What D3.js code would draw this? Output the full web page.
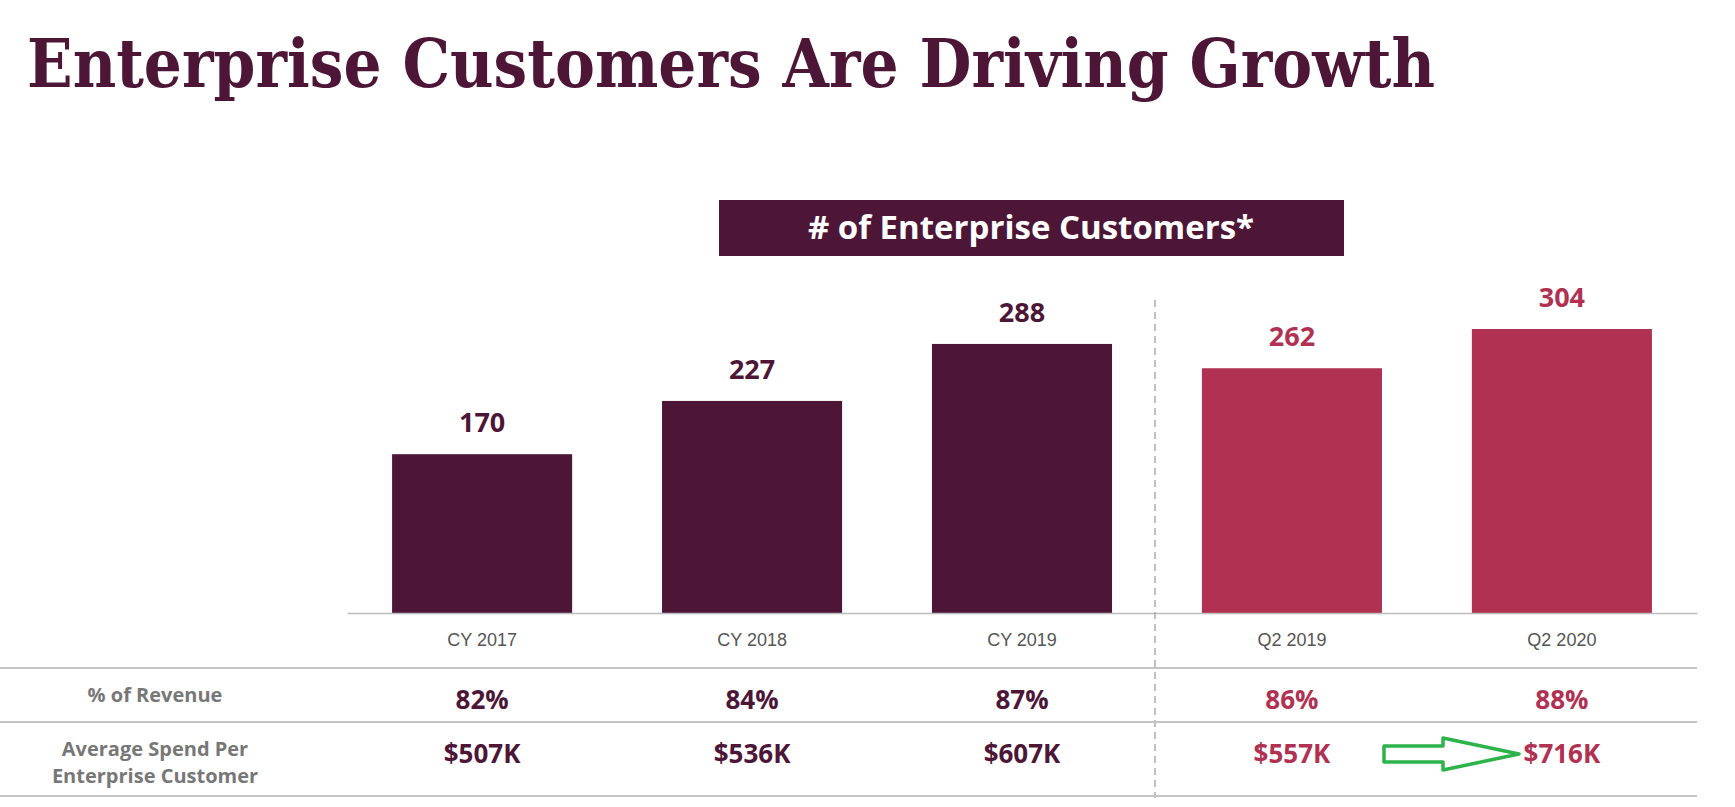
<!DOCTYPE html>
<html><head><meta charset="utf-8">
<script src="https://cdn.jsdelivr.net/npm/d3@7"></script>
<style>body{margin:0;background:#fff}</style>
</head><body><div id="chart"></div>
<script>
const categories = ["CY 2017", "CY 2018", "CY 2019", "Q2 2019", "Q2 2020"];
const customers = [170, 227, 288, 262, 304];
const revenueShare = ["82%", "84%", "87%", "86%", "88%"];
const avgSpend = ["$507K", "$536K", "$607K", "$557K", "$716K"];
const isQuarter = [false, false, false, true, true];

const dark = "#4d1637", red = "#b03152";
const W = 1735, H = 807, baseY = 613;

const svg = d3.select("#chart").append("svg").attr("width", W).attr("height", H);

svg.append("text").attr("x", 27).attr("y", 87)
    .attr("font-family", "DejaVu Serif").attr("font-weight", "bold")
    .attr("font-size", 68).attr("fill", dark)
    .attr("textLength", 1408).attr("lengthAdjust", "spacingAndGlyphs")
    .text("Enterprise Customers Are Driving Growth");

svg.append("rect").attr("x", 719).attr("y", 200).attr("width", 625).attr("height", 56).attr("fill", dark);
svg.append("text").attr("x", 1031).attr("y", 239).attr("text-anchor", "middle")
    .attr("font-family", "Open Sans").attr("font-weight", "bold").attr("font-size", 33)
    .attr("fill", "#fff").text("# of Enterprise Customers*");

const x = d3.scaleBand().domain(categories).range([347, 1697]).paddingInner(0.333).paddingOuter(0.167);
const y = d3.scaleLinear().domain([0, 304]).range([baseY, 329]);
const col = i => isQuarter[i] ? red : dark;

svg.selectAll(".bar").data(customers).enter().append("rect")
    .attr("x", (d, i) => x(categories[i])).attr("width", x.bandwidth())
    .attr("y", d => y(d)).attr("height", d => baseY - y(d))
    .attr("fill", (d, i) => col(i));

svg.selectAll(".val").data(customers).enter().append("text")
    .attr("x", (d, i) => x(categories[i]) + x.bandwidth() / 2).attr("y", d => y(d) - 22)
    .attr("text-anchor", "middle").attr("font-family", "Open Sans").attr("font-weight", "bold")
    .attr("font-size", 27).attr("fill", (d, i) => col(i)).text(d => d);

const axis = svg.append("g").attr("transform", `translate(0,${baseY})`)
    .call(d3.axisBottom(x).tickSize(0).tickPadding(20));
axis.select(".domain").attr("stroke", "#bbb").attr("stroke-width", 1.5);
axis.selectAll("text").attr("font-family", "Liberation Sans").attr("font-size", 18).attr("fill", "#555");

svg.append("line").attr("x1", 1155).attr("x2", 1155).attr("y1", 300).attr("y2", 798)
    .attr("stroke", "#aaa").attr("stroke-width", 1.5).attr("stroke-dasharray", "7,5");

[668, 722, 796].forEach(yy => svg.append("line").attr("x1", 0).attr("x2", 1697)
    .attr("y1", yy).attr("y2", yy).attr("stroke", "#c4c4c4").attr("stroke-width", 2));

const lbl = (t, yy) => svg.append("text").attr("x", 155).attr("y", yy).attr("text-anchor", "middle")
    .attr("font-family", "Open Sans").attr("font-weight", "bold").attr("font-size", 20)
    .attr("fill", "#777").text(t);
lbl("% of Revenue", 702);
lbl("Average Spend Per", 756);
lbl("Enterprise Customer", 783);

const row = (data, yy) => svg.selectAll(null).data(data).enter().append("text")
    .attr("x", (d, i) => x(categories[i]) + x.bandwidth() / 2).attr("y", yy)
    .attr("text-anchor", "middle").attr("font-family", "Open Sans").attr("font-weight", "bold")
    .attr("font-size", 26).attr("fill", (d, i) => col(i)).text(d => d);
row(revenueShare, 709);
row(avgSpend, 763);

svg.append("path")
    .attr("d", "M1384,746 L1443,746 L1443,738 L1519,754 L1443,770 L1443,762 L1384,762 Z")
    .attr("fill", "#fff").attr("stroke", "#2db34a").attr("stroke-width", 3.5).attr("stroke-linejoin", "round");
</script></body></html>
